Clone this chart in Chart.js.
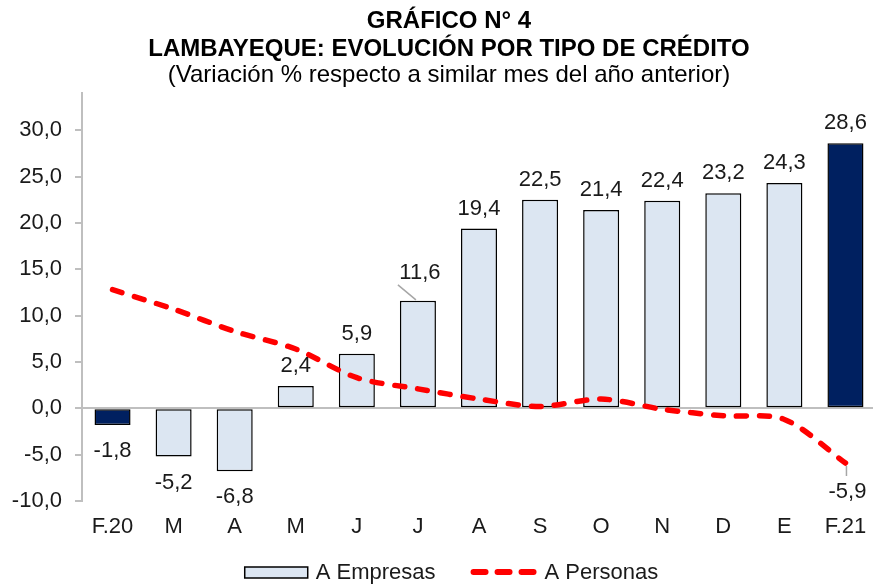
<!DOCTYPE html>
<html><head><meta charset="utf-8">
<script src="https://cdn.jsdelivr.net/npm/chart.js@4.4.0/dist/chart.umd.min.js"></script>
<style>
html,body{margin:0;padding:0;background:#fff;overflow:hidden;width:873px;height:584px}
#wrap{width:898px;height:584px;position:relative}
</style>
</head><body><div id="wrap"><canvas id="c" width="898" height="584"></canvas></div>
<script>
const categories = ['F.20','M','A','M','J','J','A','S','O','N','D','E','F.21'];
const empresas = [-1.8,-5.2,-6.8,2.4,5.9,11.6,19.4,22.5,21.4,22.4,23.2,24.3,28.6];
const personas = [12.8,10.7,8.3,6.4,3.3,2.1,1.0,0.2,1.0,-0.1,-0.8,-1.2,-5.9];
const yTicks = [-10,-5,0,5,10,15,20,25,30];
const seriesNames = ['A Empresas','A Personas'];
const titleLines = ['GRÁFICO N° 4','LAMBAYEQUE: EVOLUCIÓN POR TIPO DE CRÉDITO'];
const subtitleText = '(Variación % respecto a similar mes del año anterior)';

const FONT = '"Liberation Sans", Arial, sans-serif';
const LIGHT = '#dce6f2', DARK = '#002060', RED = '#ff0000';
const fmt = v => v.toFixed(1).replace('.', ',');
const lastIdx = categories.length - 1;

const labelPlugin = {
  id: 'vlabels',
  afterDatasetsDraw(chart) {
    const ctx = chart.ctx;
    const bars = chart.getDatasetMeta(0).data;
    const pts = chart.getDatasetMeta(1).data;
    ctx.save();
    ctx.font = '22px ' + FONT;
    ctx.fillStyle = '#1a1a1a';
    ctx.textAlign = 'center';
    ctx.textBaseline = 'middle';
    bars.forEach((b, i) => {
      const v = empresas[i];
      if (i === 5) {
        ctx.strokeStyle = '#a6a6a6'; ctx.lineWidth = 1.5;
        ctx.beginPath(); ctx.moveTo(b.x - 2, b.y - 1); ctx.lineTo(b.x - 20, b.y - 16); ctx.stroke();
        ctx.fillText(fmt(v), b.x + 2, b.y - 28);
        return;
      }
      const y = v >= 0 ? b.y - 20 : b.y + 26;
      ctx.fillText(fmt(v), b.x, y);
    });
    const p = pts[lastIdx];
    ctx.strokeStyle = '#a6a6a6'; ctx.lineWidth = 1.5;
    ctx.beginPath(); ctx.moveTo(p.x + 1, p.y + 3); ctx.lineTo(p.x + 1, p.y + 13); ctx.stroke();
    ctx.fillText(fmt(personas[lastIdx]), p.x + 2, p.y + 29);
    ctx.restore();
  }
};

const legendPlugin = {
  id: 'customLegend',
  afterDraw(chart) {
    const ctx = chart.ctx;
    ctx.save();
    ctx.font = '22px ' + FONT;
    ctx.textBaseline = 'middle';
    const w1 = ctx.measureText(seriesNames[0]).width;
    const w2 = ctx.measureText(seriesNames[1]).width;
    const total = 64 + 8 + w1 + 35 + 68 + 6 + w2;
    let x = 452 - total / 2;
    const cy = 572;
    ctx.fillStyle = LIGHT; ctx.strokeStyle = '#000'; ctx.lineWidth = 1.5;
    ctx.fillRect(x, cy - 5, 63, 11); ctx.strokeRect(x, cy - 5, 63, 11);
    x += 63 + 8;
    ctx.fillStyle = '#1a1a1a'; ctx.textAlign = 'left';
    ctx.fillText(seriesNames[0], x, cy + 1);
    x += w1 + 35;
    ctx.strokeStyle = RED; ctx.lineWidth = 6; ctx.lineCap = 'round';
    ctx.setLineDash([12, 12]);
    ctx.beginPath(); ctx.moveTo(x + 3, cy); ctx.lineTo(x + 68, cy); ctx.stroke();
    ctx.setLineDash([]);
    x += 68 + 6;
    ctx.fillText(seriesNames[1], x, cy + 1);
    ctx.restore();
  }
};

new Chart(document.getElementById('c'), {
  data: {
    labels: categories,
    datasets: [
      {
        type: 'bar', label: seriesNames[0], data: empresas, order: 1,
        backgroundColor: ctx => (ctx.dataIndex === 0 || ctx.dataIndex === lastIdx) ? DARK : LIGHT,
        borderColor: '#000', borderWidth: 1.5, borderSkipped: false,
        barPercentage: 0.59, categoryPercentage: 1.0
      },
      {
        type: 'line', label: seriesNames[1], data: personas, order: 0,
        borderColor: RED, borderWidth: 5.5, borderDash: [10, 13], borderCapStyle: 'round',
        pointRadius: 0, tension: 0.3, fill: false
      }
    ]
  },
  options: {
    responsive: false, animation: false,
    layout: { padding: { left: 0, right: 0, top: 0, bottom: 24 } },
    plugins: {
      legend: { display: false },
      tooltip: { enabled: false },
      title: {
        display: true, text: titleLines, color: '#000',
        font: { family: FONT, size: 24, weight: 'bold', lineHeight: 1.15 },
        padding: { top: 8, bottom: 0 }
      },
      subtitle: {
        display: true, text: subtitleText, color: '#000',
        font: { family: FONT, size: 24, lineHeight: 1.0 },
        padding: { top: 0, bottom: 6 }
      }
    },
    scales: {
      x: {
        offset: true,
        afterFit: s => { s.height = 59; s.paddingRight = 22; },
        grid: { display: false, drawTicks: false },
        border: { display: false },
        ticks: { color: '#1a1a1a', font: { family: FONT, size: 22 }, padding: 13, maxRotation: 0 }
      },
      y: {
        min: -10, max: 34,
        afterBuildTicks: s => { s.ticks = yTicks.map(v => ({ value: v })); },
        afterFit: s => { s.width = 82; },
        grid: {
          color: c => (c.tick && c.tick.value === 0) ? '#bfbfbf' : 'rgba(0,0,0,0)',
          lineWidth: 2, tickColor: '#bfbfbf', tickLength: 7, drawTicks: true
        },
        border: { display: true, color: '#bfbfbf', width: 2 },
        ticks: { color: '#1a1a1a', font: { family: FONT, size: 22 }, padding: 13, callback: v => fmt(v) }
      }
    }
  },
  plugins: [labelPlugin, legendPlugin]
});
</script>
</body></html>
